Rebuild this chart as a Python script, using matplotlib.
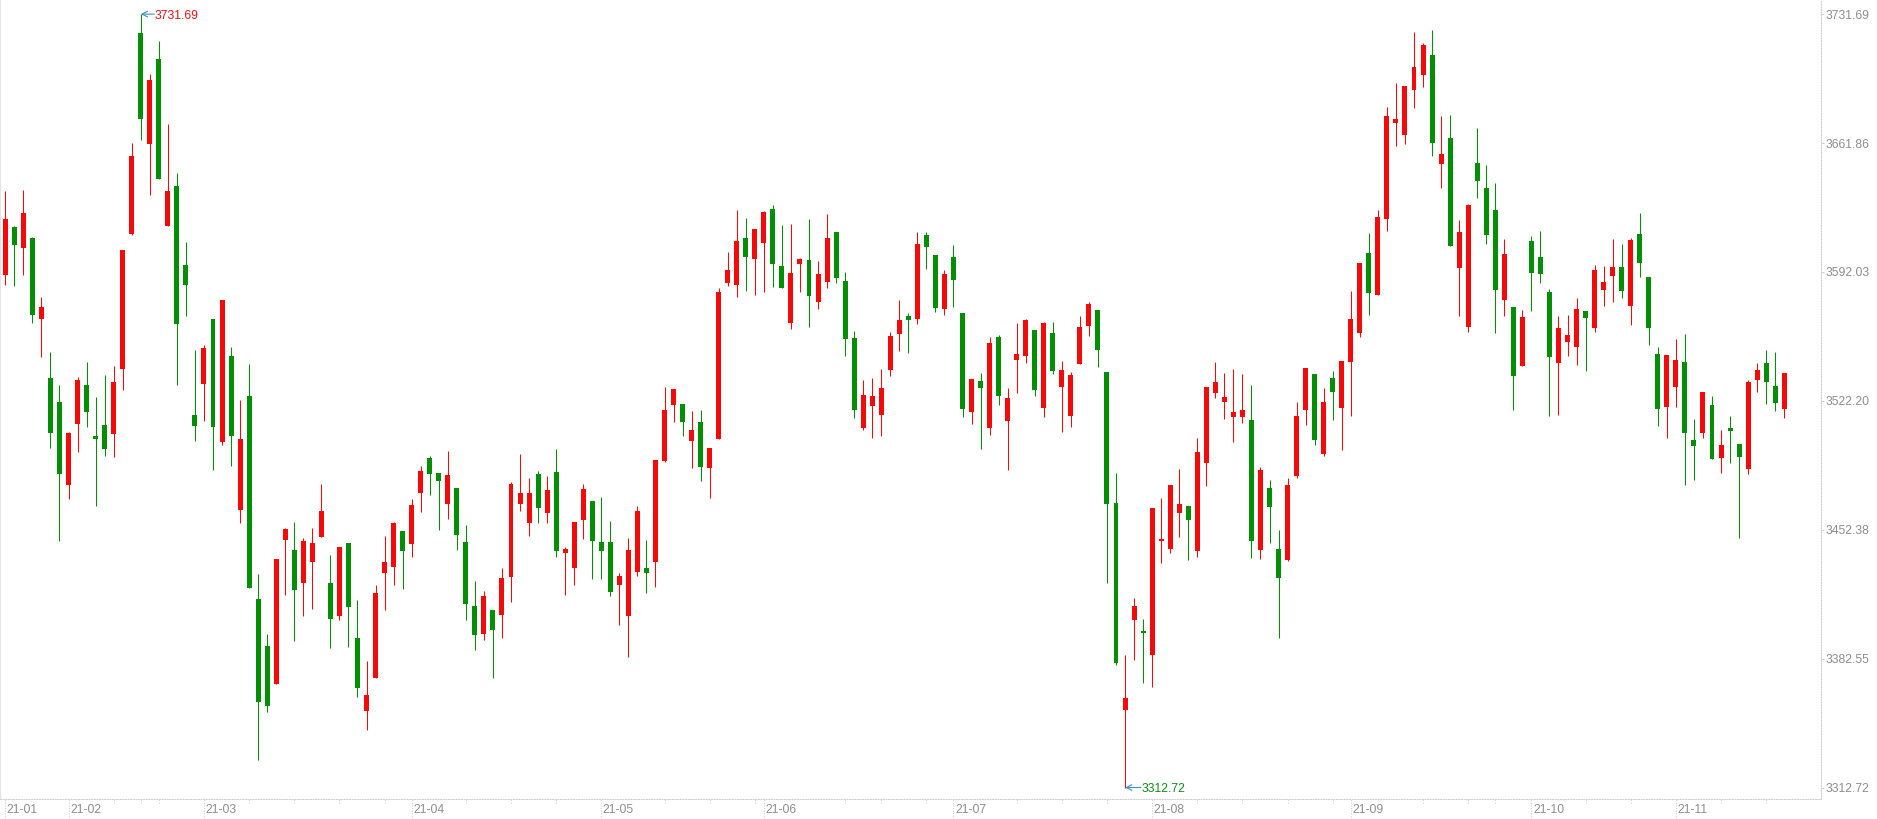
import numpy as np
import pandas as pd
import matplotlib
matplotlib.use('Agg')
import matplotlib.pyplot as plt
from matplotlib.transforms import blended_transform_factory

plt.rcParams['font.family'] = ['Liberation Sans', 'DejaVu Sans']

# daily candles, 2021-01-21 .. 2021-11-17
start_day = '2021-01-21'
end_day = '2021-11-17'
holidays = ['2021-02-11', '2021-02-12', '2021-02-15', '2021-02-16', '2021-02-17',
            '2021-04-05', '2021-05-03', '2021-05-04', '2021-05-05', '2021-06-14',
            '2021-09-20', '2021-09-21', '2021-10-01', '2021-10-04', '2021-10-05',
            '2021-10-06', '2021-10-07']

opens = [
    3590.1, 3616.5, 3604.9, 3610.6, 3566.7, 3534.8, 3521.7, 3476.4, 3509.7, 3531.0,
    3503.3, 3509.3, 3504.0, 3539.3, 3612.5, 3721.2, 3661.1, 3707.1, 3617.0, 3638.7,
    3595.6, 3514.3, 3531.2, 3566.7, 3499.7, 3546.7, 3463.0, 3525.0, 3414.9, 3389.4,
    3369.0, 3446.6, 3441.4, 3423.7, 3435.0, 3448.6, 3423.4, 3405.5, 3445.3, 3393.9,
    3354.3, 3372.3, 3428.7, 3432.0, 3451.6, 3444.4, 3472.1, 3491.1, 3483.1, 3466.5,
    3475.1, 3445.8, 3411.0, 3396.1, 3408.8, 3406.3, 3426.7, 3466.5, 3455.8, 3482.6,
    3461.3, 3483.7, 3439.5, 3431.4, 3457.4, 3467.9, 3445.8, 3445.8, 3422.6, 3405.9,
    3429.2, 3431.7, 3435.0, 3489.7, 3520.2, 3520.4, 3500.3, 3510.8, 3485.6, 3501.6,
    3585.9, 3585.1, 3610.5, 3599.2, 3607.8, 3626.0, 3595.3, 3564.4, 3596.4, 3598.3,
    3575.7, 3586.8, 3613.6, 3587.0, 3556.4, 3507.4, 3519.3, 3514.6, 3538.9, 3558.3,
    3568.2, 3566.6, 3611.9, 3601.1, 3571.8, 3600.0, 3569.9, 3516.0, 3532.9, 3507.4,
    3556.6, 3511.4, 3544.5, 3546.7, 3560.5, 3518.2, 3558.9, 3529.6, 3514.1, 3542.3,
    3563.0, 3571.3, 3537.8, 3466.8, 3354.6, 3403.2, 3397.4, 3384.7, 3446.1, 3441.9,
    3461.3, 3465.2, 3441.1, 3488.4, 3526.5, 3521.5, 3513.5, 3513.5, 3511.9, 3441.4,
    3475.1, 3441.9, 3435.9, 3481.5, 3517.1, 3536.7, 3493.4, 3534.5, 3518.2, 3543.1,
    3559.1, 3602.2, 3579.6, 3620.8, 3672.7, 3666.1, 3690.7, 3698.7, 3709.5, 3650.6,
    3664.7, 3594.2, 3562.2, 3651.2, 3637.5, 3625.6, 3576.9, 3572.9, 3541.2, 3608.9,
    3600.1, 3581.1, 3542.7, 3554.0, 3551.4, 3571.0, 3561.6, 3582.3, 3589.6, 3594.7,
    3573.8, 3612.6, 3589.4, 3547.8, 3518.6, 3529.9, 3543.2, 3501.1, 3505.0, 3520.0,
    3491.4, 3507.3, 3498.8, 3485.5, 3533.6, 3542.7, 3530.2, 3518.0]

highs = [
    3635.6, 3617.0, 3636.6, 3611.0, 3578.2, 3548.8, 3531.0, 3505.5, 3535.0, 3543.4,
    3524.1, 3536.0, 3541.2, 3603.7, 3662.1, 3731.69, 3699.0, 3716.9, 3671.9, 3645.4,
    3608.0, 3550.0, 3552.4, 3566.7, 3577.0, 3551.5, 3522.9, 3541.9, 3428.4, 3395.8,
    3436.4, 3453.3, 3456.6, 3448.0, 3453.3, 3477.0, 3438.6, 3443.1, 3445.3, 3414.3,
    3381.1, 3422.3, 3448.8, 3456.6, 3451.6, 3469.0, 3487.0, 3492.2, 3483.1, 3495.0,
    3475.1, 3454.9, 3424.5, 3419.3, 3408.8, 3431.7, 3478.2, 3493.4, 3480.4, 3484.2,
    3481.5, 3496.1, 3443.1, 3456.6, 3477.0, 3467.9, 3470.1, 3457.2, 3428.9, 3447.7,
    3465.2, 3446.9, 3490.0, 3529.6, 3528.7, 3520.4, 3516.6, 3517.1, 3496.9, 3583.4,
    3602.8, 3625.5, 3621.3, 3615.2, 3624.9, 3628.2, 3617.4, 3618.0, 3599.5, 3620.8,
    3597.8, 3623.5, 3613.6, 3592.0, 3560.0, 3533.4, 3534.5, 3539.5, 3559.4, 3576.8,
    3569.9, 3613.6, 3613.6, 3601.1, 3593.1, 3606.7, 3569.9, 3534.0, 3537.3, 3556.6,
    3557.7, 3528.9, 3564.4, 3566.6, 3560.5, 3564.9, 3564.9, 3543.7, 3537.8, 3568.2,
    3575.7, 3571.3, 3537.8, 3483.1, 3384.4, 3415.4, 3404.1, 3464.1, 3469.6, 3476.5,
    3485.3, 3465.2, 3502.2, 3529.6, 3543.1, 3537.3, 3539.5, 3536.7, 3530.7, 3486.5,
    3479.3, 3452.2, 3480.4, 3521.5, 3540.1, 3536.7, 3529.3, 3538.4, 3543.7, 3581.8,
    3597.0, 3613.0, 3625.5, 3681.3, 3694.2, 3692.6, 3721.9, 3716.1, 3723.0, 3676.6,
    3677.1, 3620.2, 3628.8, 3670.0, 3650.2, 3640.3, 3609.7, 3572.9, 3571.2, 3611.4,
    3614.0, 3582.8, 3568.1, 3568.7, 3577.8, 3571.0, 3595.9, 3595.3, 3609.7, 3606.9,
    3610.3, 3623.9, 3589.4, 3551.4, 3546.9, 3555.7, 3558.5, 3512.1, 3527.1, 3524.8,
    3506.4, 3514.1, 3498.8, 3533.3, 3542.7, 3549.7, 3548.6, 3537.3]

lows = [
    3585.1, 3584.6, 3590.6, 3564.1, 3545.7, 3496.4, 3446.1, 3469.2, 3494.7, 3507.8,
    3465.2, 3492.1, 3491.6, 3527.9, 3611.8, 3663.3, 3633.7, 3642.3, 3617.0, 3531.0,
    3567.9, 3500.5, 3511.4, 3484.7, 3498.1, 3486.9, 3455.9, 3420.8, 3327.5, 3353.7,
    3369.0, 3416.8, 3391.9, 3405.5, 3409.6, 3448.6, 3388.3, 3403.5, 3389.1, 3361.5,
    3344.1, 3372.3, 3409.1, 3422.6, 3420.1, 3437.8, 3462.1, 3471.0, 3452.4, 3458.3,
    3441.4, 3403.2, 3387.0, 3392.5, 3372.3, 3393.6, 3413.2, 3462.7, 3449.1, 3455.8,
    3455.8, 3437.8, 3416.8, 3422.3, 3447.2, 3425.9, 3425.9, 3416.2, 3401.0, 3383.6,
    3427.5, 3417.9, 3421.5, 3489.1, 3510.5, 3503.0, 3485.6, 3479.0, 3469.3, 3501.6,
    3584.6, 3578.5, 3581.8, 3579.6, 3581.2, 3583.7, 3583.4, 3561.1, 3581.2, 3562.2,
    3571.8, 3583.4, 3585.9, 3546.4, 3513.0, 3506.3, 3502.2, 3503.0, 3535.6, 3549.2,
    3548.3, 3563.8, 3593.7, 3570.2, 3568.8, 3572.9, 3513.5, 3509.7, 3496.1, 3503.5,
    3519.9, 3484.5, 3526.5, 3542.5, 3524.9, 3513.5, 3536.8, 3505.2, 3508.0, 3542.3,
    3557.2, 3540.6, 3423.4, 3379.2, 3312.72, 3381.7, 3369.2, 3367.0, 3434.5, 3440.0,
    3448.3, 3436.2, 3437.8, 3475.9, 3523.5, 3512.4, 3500.0, 3510.2, 3437.0, 3436.4,
    3445.3, 3393.9, 3435.3, 3480.4, 3509.1, 3498.3, 3492.3, 3511.9, 3495.6, 3514.1,
    3556.9, 3568.8, 3579.6, 3614.1, 3660.3, 3661.4, 3680.7, 3692.1, 3654.7, 3637.6,
    3606.1, 3568.2, 3559.4, 3631.8, 3607.2, 3559.1, 3568.1, 3517.2, 3541.2, 3571.0,
    3586.0, 3514.1, 3514.4, 3546.3, 3541.5, 3538.4, 3559.4, 3573.5, 3575.8, 3577.8,
    3563.3, 3589.1, 3552.6, 3508.7, 3502.2, 3518.6, 3476.7, 3479.5, 3502.2, 3490.9,
    3483.2, 3488.3, 3447.9, 3482.4, 3526.8, 3520.6, 3516.9, 3512.7]

closes = [
    3620.8, 3606.5, 3624.2, 3568.9, 3573.2, 3504.5, 3482.3, 3505.0, 3533.6, 3516.4,
    3501.4, 3495.9, 3532.2, 3603.7, 3654.9, 3674.7, 3696.2, 3642.3, 3636.1, 3563.6,
    3584.8, 3508.6, 3551.0, 3507.8, 3577.0, 3503.1, 3501.6, 3420.8, 3358.8, 3357.1,
    3436.4, 3452.7, 3419.5, 3446.4, 3445.3, 3462.4, 3403.8, 3443.1, 3410.7, 3366.5,
    3362.9, 3418.2, 3434.8, 3456.0, 3441.1, 3465.7, 3484.2, 3482.3, 3479.0, 3482.0,
    3449.7, 3412.4, 3395.5, 3416.5, 3398.3, 3426.2, 3477.0, 3472.3, 3472.3, 3464.3,
    3474.0, 3440.6, 3441.9, 3456.6, 3474.6, 3446.1, 3440.6, 3418.4, 3427.3, 3441.4,
    3462.4, 3428.7, 3490.0, 3517.1, 3528.7, 3510.5, 3506.3, 3486.2, 3496.4, 3581.2,
    3593.1, 3608.9, 3600.3, 3615.2, 3624.4, 3596.4, 3583.4, 3591.5, 3598.9, 3579.0,
    3590.9, 3610.5, 3588.7, 3555.8, 3517.1, 3525.4, 3524.9, 3528.9, 3557.2, 3566.0,
    3566.0, 3607.2, 3605.6, 3572.4, 3590.9, 3587.6, 3517.7, 3534.0, 3529.3, 3553.6,
    3524.9, 3523.8, 3547.5, 3566.0, 3527.9, 3564.4, 3538.4, 3538.9, 3536.2, 3562.2,
    3574.6, 3549.7, 3466.3, 3380.3, 3361.2, 3411.0, 3396.3, 3464.1, 3447.5, 3476.5,
    3466.3, 3457.4, 3494.5, 3529.6, 3532.3, 3524.3, 3516.0, 3517.1, 3446.4, 3484.8,
    3464.6, 3426.2, 3476.5, 3514.1, 3540.1, 3501.1, 3521.5, 3527.1, 3543.7, 3566.6,
    3597.0, 3580.7, 3621.9, 3676.6, 3674.9, 3692.6, 3703.1, 3715.0, 3661.9, 3655.9,
    3606.1, 3613.6, 3628.2, 3641.2, 3612.0, 3582.0, 3601.8, 3535.6, 3567.6, 3591.6,
    3590.8, 3546.1, 3561.6, 3557.9, 3571.8, 3567.3, 3593.0, 3586.5, 3594.7, 3581.7,
    3609.4, 3597.0, 3561.9, 3518.0, 3546.9, 3544.4, 3505.0, 3497.9, 3526.8, 3490.9,
    3498.2, 3506.1, 3492.0, 3532.5, 3539.0, 3532.5, 3521.1, 3537.3]

y_ticks = [3312.72, 3382.55, 3452.38, 3522.20, 3592.03, 3661.86, 3731.69]

UP = '#f50a0a'
DOWN = '#038f03'
AXIS_C = '#cfcfcf'
TXT_C = '#8e8e8e'
W, H = 1877, 819

o = np.array(opens); h = np.array(highs); l = np.array(lows); c = np.array(closes)
n = len(o)
x = np.arange(n)
dates = pd.bdate_range(start_day, end_day, freq='C', holidays=holidays)[:n]

fig = plt.figure(figsize=(W / 100, H / 100), dpi=100)
ax = fig.add_axes([0, 20 / H, 1821 / W, 799 / H])
ax.set_xlim(-0.587, 201.07)
ax.set_ylim(3306.5, 3739.33)

cols = np.where(c >= o, UP, DOWN)
ax.vlines(x, l, h, colors=cols, linewidth=0.75)
body = np.maximum(np.abs(c - o), 0.6)
ax.bar(x, body, bottom=np.minimum(o, c), width=0.55, color=cols, linewidth=0)

# max / min markers
imax = int(np.argmax(h)); imin = int(np.argmin(l))
arrow = dict(arrowstyle='->,head_length=0.4,head_width=0.2', color='#3f8fc2',
             lw=0.8, shrinkA=0, shrinkB=0)
ax.annotate('', xy=(imax, h[imax]), xytext=(imax + 1.5, h[imax]), arrowprops=arrow)
ax.text(imax + 1.57, h[imax], f'{h[imax]:.2f}', color='#e3121c', fontsize=8.7,
        ha='left', va='center_baseline')
ax.annotate('', xy=(imin, l[imin]), xytext=(imin + 1.75, l[imin]), arrowprops=arrow)
ax.text(imin + 1.82, l[imin], f'{l[imin]:.2f}', color='#0f8a17', fontsize=8.7,
        ha='left', va='center_baseline')

# frame
ax.spines['top'].set_visible(False)
ax.spines['left'].set_color('#e4e4e4')
for s in ('bottom', 'right'):
    ax.spines[s].set_color(AXIS_C)
    ax.spines[s].set_linestyle((0, (1, 1.5)))
    ax.spines[s].set_linewidth(0.75)

ax.yaxis.tick_right()
ax.set_yticks(y_ticks)
ax.set_yticklabels([f'{v:.2f}' for v in y_ticks])
ax.tick_params(axis='y', length=2, width=0.7, color=AXIS_C, pad=1.5,
               labelsize=8.7, labelcolor=TXT_C)
ax.set_xticks([])

# month labels and weekly ticks
tr = blended_transform_factory(ax.transData, fig.transFigure)
month_idx = [i for i in range(n) if i == 0 or dates[i].month != dates[i - 1].month]
week_idx = [i for i in range(n) if i == 0 or dates[i].isocalendar()[1] != dates[i - 1].isocalendar()[1]]
y_ax = 20 / H
for i in month_idx:
    ax.plot([i, i], [0, y_ax], transform=tr, color=AXIS_C, lw=0.75,
            ls=(0, (1, 1.5)), clip_on=False)
    ax.text(i + 0.18, 9 / H, dates[i].strftime('%y-%m'), transform=tr,
            color=TXT_C, fontsize=8.7, ha='left', va='center')
for i in week_idx:
    if any(0 <= i - m <= 4 for m in month_idx):
        continue
    ax.plot([i, i], [y_ax - 4 / H, y_ax], transform=tr, color=AXIS_C, lw=0.75,
            ls=(0, (1, 1.5)), clip_on=False)

fig.savefig('out.png', dpi=100)
